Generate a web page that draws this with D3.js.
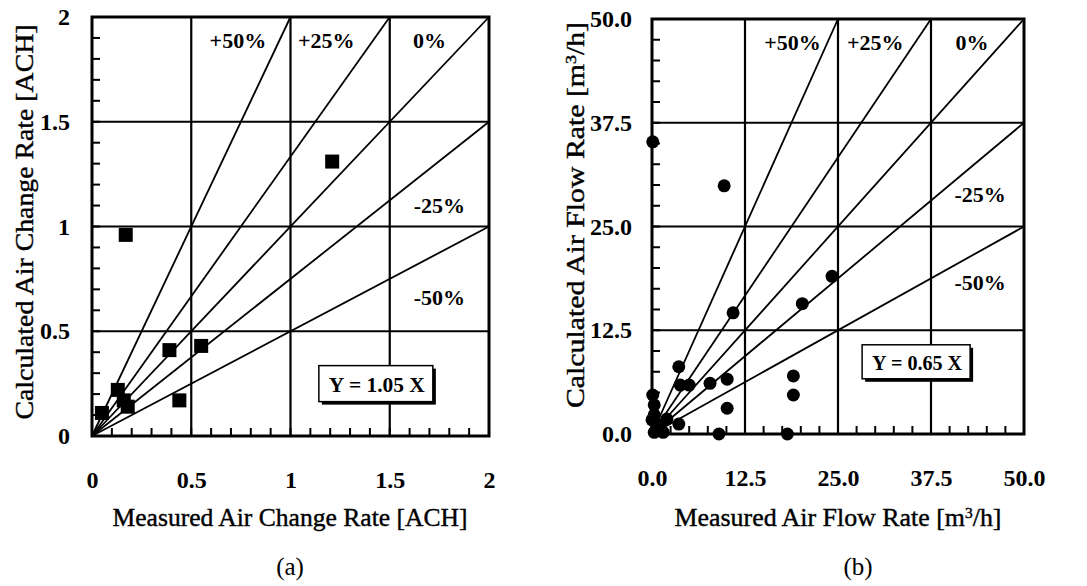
<!DOCTYPE html>
<html lang="en">
<head>
<meta charset="UTF-8">
<title>Measured vs calculated</title>
<style>
  body { margin: 0; background: #fff; }
  text { font-family: "Liberation Serif", "Times New Roman", serif; fill: #000; }
</style>
</head>
<body>
<svg id="chart" width="1087" height="586"></svg>
<script src="https://cdnjs.cloudflare.com/ajax/libs/d3/7.8.5/d3.min.js"></script>
<script>
// panel (a): air change rate [ACH]
var measuredA   = [0.05, 0.13, 0.16, 0.18, 0.39, 0.55, 0.44, 0.17, 1.21];
var calculatedA = [0.11, 0.22, 0.17, 0.14, 0.41, 0.43, 0.17, 0.96, 1.31];
var ticksA = [0, 0.5, 1, 1.5, 2];
var minorA = d3.range(0.1, 2, 0.1);

// panel (b): air flow rate [m3/h]
var measuredB   = [0.1, 9.7, 24.2, 20.2, 10.9, 3.6, 3.8, 5.0, 7.8, 10.1, 19.0, 19.0, 10.1, 3.6, 9.0, 18.2,
                   0.1, 0.3, 0.3, 1.0, 0.3, 1.5, 0.0, 2.0, 0.6];
var calculatedB = [35.2, 29.9, 19.0, 15.7, 14.6, 8.1, 5.9, 5.9, 6.1, 6.6, 7.0, 4.7, 3.1, 1.2, 0.0, 0.0,
                   4.7, 3.5, 2.3, 1.1, 0.2, 0.2, 1.7, 1.8, 0.6];
var ticksB = [0, 12.5, 25, 37.5, 50];
var minorB = d3.range(2.5, 50, 2.5);

// deviation lines y = s * x
var slopes      = [2, 4 / 3, 1, 0.75, 0.5];
var slopeLabels = ["+50%", "+25%", "0%", "-25%", "-50%"];
var labelPosA = [[0.735, 1.89], [1.18, 1.89], [1.70, 1.89], [1.75, 1.10], [1.75, 0.66]];
var labelPosB = [[18.9, 47.2], [30.0, 47.2], [43.0, 47.2], [44.1, 28.8], [44.1, 18.3]];

var svg = d3.select("#chart");

function unitText(sel, label, sup) {
    sel.append("tspan").text(label);
    if (sup) {
        sel.append("tspan").text("[m");
        sel.append("tspan").attr("baseline-shift", "super").attr("font-size", 15).text("3");
        sel.append("tspan").text("/h]");
    }
}

function drawPanel(p) {
    var x = d3.scaleLinear().domain([0, p.max]).range([p.left, p.right]);
    var y = d3.scaleLinear().domain([0, p.max]).range([p.bottom, p.top]);
    var g = svg.append("g");

    // grid
    g.selectAll("line.gx").data(p.ticks.slice(1, -1)).enter().append("line")
        .attr("class", "gx")
        .attr("x1", d => x(d)).attr("x2", d => x(d))
        .attr("y1", y(0)).attr("y2", y(p.max))
        .attr("stroke", "#000").attr("stroke-width", 2.2);
    g.selectAll("line.gy").data(p.ticks.slice(1, -1)).enter().append("line")
        .attr("class", "gy")
        .attr("y1", d => y(d)).attr("y2", d => y(d))
        .attr("x1", x(0)).attr("x2", x(p.max))
        .attr("stroke", "#000").attr("stroke-width", 2.2);

    // deviation lines
    g.selectAll("line.dev").data(slopes).enter().append("line")
        .attr("class", "dev")
        .attr("x1", x(0)).attr("y1", y(0))
        .attr("x2", s => x(Math.min(p.max, p.max / s)))
        .attr("y2", s => y(Math.min(p.max, p.max * s)))
        .attr("stroke", "#000").attr("stroke-width", 1.8);

    // frame
    g.append("rect")
        .attr("x", x(0)).attr("y", y(p.max))
        .attr("width", x(p.max) - x(0)).attr("height", y(0) - y(p.max))
        .attr("fill", "none").attr("stroke", "#000").attr("stroke-width", 3);

    // minor ticks (inward, left and bottom)
    g.selectAll("rect.my").data(p.minor).enter().append("rect")
        .attr("class", "my")
        .attr("x", x(0)).attr("y", d => y(d) - 1)
        .attr("width", 8).attr("height", 2).attr("fill", "#000");
    g.selectAll("rect.mx").data(p.minor).enter().append("rect")
        .attr("class", "mx")
        .attr("x", d => x(d) - 1).attr("y", y(0) - 8)
        .attr("width", 2).attr("height", 8).attr("fill", "#000");

    // tick labels
    var ax = g.append("g").attr("transform", "translate(0," + y(0) + ")")
        .call(d3.axisBottom(x).tickValues(p.ticks).tickSize(0).tickPadding(35).tickFormat(p.fmt));
    ax.select(".domain").remove();
    var ay = g.append("g").attr("transform", "translate(" + x(0) + ",0)")
        .call(d3.axisLeft(y).tickValues(p.ticks).tickSize(0).tickPadding(p.ypad).tickFormat(p.fmt));
    ay.select(".domain").remove();
    g.selectAll(".tick text")
        .attr("font-family", "Liberation Serif, serif")
        .attr("font-size", 24).attr("font-weight", "bold").attr("fill", "#000");

    // percentage labels
    g.selectAll("text.pl").data(slopeLabels).enter().append("text")
        .attr("class", "pl")
        .attr("x", (d, i) => x(p.labelPos[i][0]))
        .attr("y", (d, i) => y(p.labelPos[i][1]))
        .attr("text-anchor", "middle").attr("dominant-baseline", "central")
        .attr("font-size", 22).attr("font-weight", "bold")
        .text(d => d);

    // points
    var pts = p.xs.map((v, i) => [v, p.ys[i]]);
    if (p.shape === "square") {
        g.selectAll("rect.pt").data(pts).enter().append("rect")
            .attr("class", "pt")
            .attr("x", d => x(d[0]) - 7).attr("y", d => y(d[1]) - 7)
            .attr("width", 14).attr("height", 14).attr("fill", "#000");
    } else {
        g.selectAll("circle.pt").data(pts).enter().append("circle")
            .attr("class", "pt")
            .attr("cx", d => x(d[0])).attr("cy", d => y(d[1]))
            .attr("r", 6.5).attr("fill", "#000");
    }

    // regression box
    var bx = x(p.box[0]), by = y(p.box[1]);
    g.append("rect").attr("x", bx - p.boxW / 2 + 3).attr("y", by - p.boxH / 2 + 3)
        .attr("width", p.boxW).attr("height", p.boxH).attr("fill", "#000");
    g.append("rect").attr("x", bx - p.boxW / 2).attr("y", by - p.boxH / 2)
        .attr("width", p.boxW).attr("height", p.boxH)
        .attr("fill", "#fff").attr("stroke", "#000").attr("stroke-width", 1.5);
    g.append("text").attr("x", bx + 1).attr("y", by + 1)
        .attr("text-anchor", "middle").attr("dominant-baseline", "central")
        .attr("font-size", 21).attr("font-weight", "bold")
        .attr("textLength", p.boxW - 18).attr("lengthAdjust", "spacingAndGlyphs")
        .text(p.fit);

    // axis titles
    var xt = g.append("text").attr("x", p.xTitle[0]).attr("y", p.xTitle[1])
        .attr("text-anchor", "middle").attr("font-size", 25)
        .attr("stroke", "#000").attr("stroke-width", 0.4)
        .attr("textLength", p.xTitle[2]).attr("lengthAdjust", "spacingAndGlyphs");
    unitText(xt, p.xLabel, p.unitSup);
    var yt = g.append("text")
        .attr("transform", "translate(" + p.yTitle[0] + "," + p.yTitle[1] + ") rotate(-90)")
        .attr("text-anchor", "middle").attr("font-size", 25)
        .attr("stroke", "#000").attr("stroke-width", 0.4)
        .attr("textLength", p.yTitle[2]).attr("lengthAdjust", "spacingAndGlyphs");
    unitText(yt, p.yLabel, p.unitSup);

    g.append("text").attr("x", p.caption[0]).attr("y", p.caption[1])
        .attr("text-anchor", "middle").attr("font-size", 25).text(p.captionText);
}

drawPanel({
    max: 2, left: 92, right: 489, top: 17, bottom: 436,
    ticks: ticksA, minor: minorA, fmt: d3.format(""), ypad: 22,
    labelPos: labelPosA, xs: measuredA, ys: calculatedA, shape: "square",
    box: [1.43, 0.25], boxW: 114, boxH: 36, fit: "Y = 1.05 X",
    xLabel: "Measured Air Change Rate [ACH]", yLabel: "Calculated Air Change Rate [ACH]",
    xTitle: [290, 526, 355], yTitle: [33, 222, 395], unitSup: false,
    caption: [290, 575], captionText: "(a)"
});

drawPanel({
    max: 50, left: 652, right: 1024, top: 19, bottom: 434,
    ticks: ticksB, minor: minorB, fmt: d3.format(".1f"), ypad: 20,
    labelPos: labelPosB, xs: measuredB, ys: calculatedB, shape: "circle",
    box: [35.5, 8.7], boxW: 108, boxH: 34, fit: "Y = 0.65 X",
    xLabel: "Measured Air Flow Rate ", yLabel: "Calculated  Air Flow Rate ",
    xTitle: [838, 526, 327], yTitle: [584, 215, 386], unitSup: true,
    caption: [858, 575], captionText: "(b)"
});
</script>
</body>
</html>
